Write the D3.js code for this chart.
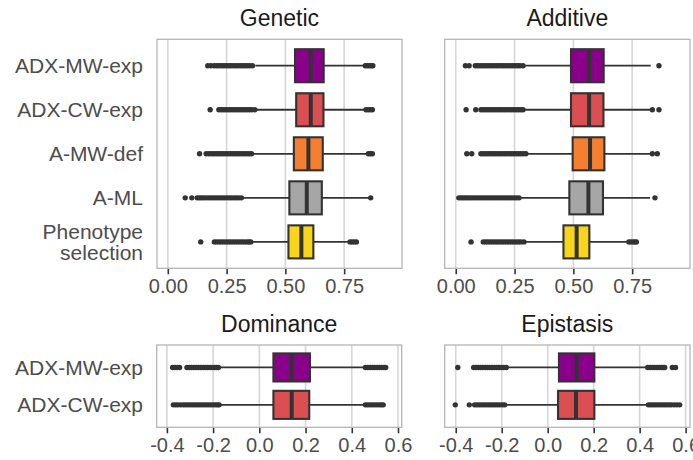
<!DOCTYPE html>
<html>
<head>
<meta charset="utf-8">
<script src="https://cdn.jsdelivr.net/npm/d3@7"></script>
<style>
  html, body { margin: 0; padding: 0; background: #ffffff; }
  svg { display: block; font-family: "Liberation Sans", Arial, Helvetica, sans-serif; }
</style>
</head>
<body>
<svg id="chart" width="693" height="460"></svg>
<script>
// ---------------- DATA ----------------
const categoriesTop = ["ADX-MW-exp", "ADX-CW-exp", "A-MW-def", "A-ML", "Phenotype selection"];
const categoriesBottom = ["ADX-MW-exp", "ADX-CW-exp"];
const methodColors = ["#8B008B", "#DB4E52", "#F47F31", "#A6A6A6", "#F8D51C"];

const topTicks = [0, 0.25, 0.5, 0.75];
const bottomTicks = [-0.4, -0.2, 0, 0.2, 0.4, 0.6];

// Genetic
const geneticQ1 = [0.541, 0.546, 0.536, 0.517, 0.513];
const geneticMedian = [0.608, 0.608, 0.598, 0.591, 0.568];
const geneticQ3 = [0.663, 0.662, 0.659, 0.655, 0.619];
const geneticLower = [0.372, 0.378, 0.365, 0.322, 0.362];
const geneticUpper = [0.832, 0.836, 0.848, 0.855, 0.770];
const geneticOutliers = [
  [0.170, 0.183, 0.197, 0.208, 0.218, 0.228, 0.238, 0.248, 0.258, 0.268, 0.278, 0.288, 0.298, 0.308, 0.318, 0.328, 0.338, 0.348, 0.360, 0.840, 0.849, 0.858, 0.866, 0.872],
  [0.180, 0.217, 0.227, 0.237, 0.247, 0.257, 0.267, 0.277, 0.287, 0.297, 0.307, 0.317, 0.327, 0.337, 0.347, 0.357, 0.370, 0.843, 0.852, 0.861, 0.870],
  [0.135, 0.163, 0.175, 0.186, 0.196, 0.206, 0.216, 0.226, 0.236, 0.246, 0.256, 0.266, 0.276, 0.286, 0.296, 0.306, 0.316, 0.326, 0.336, 0.346, 0.356, 0.853, 0.862, 0.870],
  [0.074, 0.102, 0.125, 0.134, 0.143, 0.152, 0.162, 0.172, 0.182, 0.192, 0.202, 0.212, 0.222, 0.232, 0.242, 0.252, 0.262, 0.272, 0.282, 0.292, 0.302, 0.313, 0.863],
  [0.140, 0.198, 0.208, 0.218, 0.228, 0.238, 0.248, 0.258, 0.268, 0.278, 0.288, 0.298, 0.308, 0.318, 0.328, 0.338, 0.346, 0.353, 0.775, 0.784, 0.793, 0.802]
];

// Additive
const additiveQ1 = [0.490, 0.490, 0.497, 0.483, 0.458];
const additiveMedian = [0.567, 0.567, 0.571, 0.564, 0.514];
const additiveQ3 = [0.629, 0.628, 0.632, 0.626, 0.568];
const additiveLower = [0.295, 0.295, 0.307, 0.278, 0.298];
const additiveUpper = [0.829, 0.826, 0.826, 0.826, 0.727];
const additiveOutliers = [
  [0.041, 0.057, 0.083, 0.093, 0.103, 0.113, 0.123, 0.133, 0.143, 0.153, 0.163, 0.173, 0.183, 0.193, 0.203, 0.213, 0.223, 0.233, 0.243, 0.253, 0.263, 0.273, 0.286, 0.864],
  [0.044, 0.085, 0.107, 0.117, 0.127, 0.137, 0.147, 0.157, 0.167, 0.177, 0.187, 0.197, 0.207, 0.217, 0.227, 0.237, 0.247, 0.257, 0.267, 0.277, 0.286, 0.836, 0.864],
  [0.047, 0.068, 0.107, 0.117, 0.127, 0.137, 0.147, 0.157, 0.167, 0.177, 0.187, 0.197, 0.207, 0.217, 0.227, 0.237, 0.247, 0.257, 0.267, 0.277, 0.287, 0.298, 0.836, 0.857],
  [0.013, 0.022, 0.031, 0.040, 0.049, 0.058, 0.068, 0.078, 0.088, 0.098, 0.108, 0.118, 0.128, 0.138, 0.148, 0.158, 0.168, 0.178, 0.188, 0.198, 0.208, 0.218, 0.228, 0.238, 0.248, 0.258, 0.269, 0.847],
  [0.065, 0.117, 0.127, 0.137, 0.147, 0.157, 0.167, 0.177, 0.187, 0.197, 0.207, 0.217, 0.227, 0.237, 0.247, 0.257, 0.267, 0.277, 0.290, 0.736, 0.745, 0.754, 0.762, 0.768]
];

// Dominance
const dominanceQ1 = [0.061, 0.061];
const dominanceMedian = [0.140, 0.140];
const dominanceQ3 = [0.219, 0.216];
const dominanceLower = [-0.170, -0.167];
const dominanceUpper = [0.450, 0.450];
const dominanceOutliers = [
  [-0.375, -0.365, -0.355, -0.345, -0.313, -0.303, -0.293, -0.283, -0.273, -0.263, -0.253, -0.243, -0.233, -0.223, -0.213, -0.203, -0.193, -0.185, -0.177, 0.459, 0.469, 0.479, 0.489, 0.499, 0.509, 0.519, 0.529, 0.539, 0.547],
  [-0.372, -0.362, -0.352, -0.340, -0.328, -0.318, -0.308, -0.298, -0.288, -0.278, -0.268, -0.258, -0.248, -0.238, -0.228, -0.218, -0.208, -0.198, -0.188, -0.180, -0.174, 0.459, 0.469, 0.479, 0.489, 0.499, 0.509, 0.519, 0.528, 0.536]
];

// Epistasis
const epistasisQ1 = [0.049, 0.045];
const epistasisMedian = [0.126, 0.123];
const epistasisQ3 = [0.203, 0.203];
const epistasisLower = [-0.172, -0.180];
const epistasisUpper = [0.425, 0.428];
const epistasisOutliers = [
  [-0.391, -0.322, -0.312, -0.302, -0.292, -0.282, -0.272, -0.262, -0.252, -0.242, -0.232, -0.222, -0.212, -0.202, -0.192, -0.180, 0.435, 0.445, 0.455, 0.465, 0.475, 0.485, 0.495, 0.503, 0.509, 0.542, 0.556],
  [-0.402, -0.341, -0.318, -0.308, -0.298, -0.288, -0.278, -0.268, -0.258, -0.248, -0.238, -0.228, -0.218, -0.208, -0.197, -0.187, 0.438, 0.448, 0.458, 0.468, 0.478, 0.488, 0.498, 0.508, 0.518, 0.528, 0.538, 0.550, 0.562, 0.574]
];

// ---------------- BUILD ----------------
function rows(cats, q1, med, q3, lo, hi, out) {
  return cats.map((c, i) => ({ cat: c, color: methodColors[i], q1: q1[i], med: med[i], q3: q3[i], lo: lo[i], hi: hi[i], out: out[i] }));
}

const panels = [
  { title: "Genetic", x0: 157, x1: 402, y0: 39.3, y1: 268.3, domain: [-0.046, 0.996], ticks: topTicks, fmt: d => d.toFixed(2),
    cats: categoriesTop, showY: true,
    data: rows(categoriesTop, geneticQ1, geneticMedian, geneticQ3, geneticLower, geneticUpper, geneticOutliers) },
  { title: "Additive", x0: 444.7, x1: 690, y0: 39.3, y1: 268.3, domain: [-0.047, 0.996], ticks: topTicks, fmt: d => d.toFixed(2),
    cats: categoriesTop, showY: false,
    data: rows(categoriesTop, additiveQ1, additiveMedian, additiveQ3, additiveLower, additiveUpper, additiveOutliers) },
  { title: "Dominance", x0: 156.7, x1: 401.7, y0: 345, y1: 427.3, domain: [-0.444, 0.616], ticks: bottomTicks, fmt: d => d.toFixed(1).replace("\u2212", "-"),
    cats: categoriesBottom, showY: true,
    data: rows(categoriesBottom, dominanceQ1, dominanceMedian, dominanceQ3, dominanceLower, dominanceUpper, dominanceOutliers) },
  { title: "Epistasis", x0: 444.7, x1: 690, y0: 345, y1: 427.3, domain: [-0.448, 0.619], ticks: bottomTicks, fmt: d => d.toFixed(1).replace("\u2212", "-"),
    cats: categoriesBottom, showY: false,
    data: rows(categoriesBottom, epistasisQ1, epistasisMedian, epistasisQ3, epistasisLower, epistasisUpper, epistasisOutliers) }
];

const svg = d3.select("#chart");
const dark = "#333333";

panels.forEach(p => {
  const x = d3.scaleLinear().domain(p.domain).range([p.x0, p.x1]);
  const y = d3.scalePoint().domain(p.cats).range([p.y0, p.y1]).padding(0.6);
  const bh = y.step() * 0.75;
  const g = svg.append("g");

  g.append("rect").attr("x", p.x0).attr("y", p.y0).attr("width", p.x1 - p.x0).attr("height", p.y1 - p.y0)
    .attr("fill", "#ffffff");

  g.selectAll("line.grid").data(p.ticks).enter().append("line")
    .attr("x1", d => x(d)).attr("x2", d => x(d))
    .attr("y1", p.y0).attr("y2", p.y1)
    .attr("stroke", "#d6d6d6").attr("stroke-width", 1.6);

  const b = g.selectAll("g.box").data(p.data).enter().append("g");

  b.each(function(d) {
    d3.select(this).selectAll("circle").data(d.out).enter().append("circle")
      .attr("cx", v => x(v)).attr("cy", y(d.cat)).attr("r", 2.7).attr("fill", dark);
  });
  b.append("line").attr("x1", d => x(d.lo)).attr("x2", d => x(d.q1))
    .attr("y1", d => y(d.cat)).attr("y2", d => y(d.cat)).attr("stroke", dark).attr("stroke-width", 1.8);
  b.append("line").attr("x1", d => x(d.q3)).attr("x2", d => x(d.hi))
    .attr("y1", d => y(d.cat)).attr("y2", d => y(d.cat)).attr("stroke", dark).attr("stroke-width", 1.8);
  b.append("rect").attr("x", d => x(d.q1)).attr("width", d => x(d.q3) - x(d.q1))
    .attr("y", d => y(d.cat) - bh / 2).attr("height", bh)
    .attr("fill", d => d.color).attr("stroke", dark).attr("stroke-width", 2.1);
  b.append("line").attr("x1", d => x(d.med)).attr("x2", d => x(d.med))
    .attr("y1", d => y(d.cat) - bh / 2).attr("y2", d => y(d.cat) + bh / 2)
    .attr("stroke", dark).attr("stroke-width", 4);

  g.append("rect").attr("x", p.x0).attr("y", p.y0).attr("width", p.x1 - p.x0).attr("height", p.y1 - p.y0)
    .attr("fill", "none").attr("stroke", "#b5b5b5").attr("stroke-width", 1.3);

  const axis = g.append("g").attr("transform", `translate(0,${p.y1})`)
    .call(d3.axisBottom(x).tickValues(p.ticks).tickFormat(p.fmt).tickSize(6).tickPadding(5));
  axis.select(".domain").remove();
  axis.selectAll(".tick line").attr("stroke", dark).attr("stroke-width", 1.6).attr("y1", 0.7);
  axis.selectAll(".tick text").attr("fill", "#4d4d4d").attr("font-size", "20px")
    .attr("font-family", "'Liberation Sans', Arial, sans-serif");

  if (p.showY) {
    const lab = g.selectAll("text.ylab").data(p.cats).enter().append("text")
      .attr("x", 143).attr("y", d => y(d))
      .attr("text-anchor", "end").attr("fill", "#4d4d4d").attr("font-size", "21px");
    lab.each(function(d) {
      const words = d === "Phenotype selection" ? ["Phenotype", "selection"] : [d];
      const n = words.length;
      const t = d3.select(this);
      words.forEach((w, i) => {
        t.append("tspan").attr("x", 143)
          .attr("y", y(d) + 7.5 + (i - (n - 1) / 2) * 20.6)
          .text(w);
      });
    });
  }

  g.append("text").attr("x", (p.x0 + p.x1) / 2).attr("y", p.y0 - 13)
    .attr("text-anchor", "middle").attr("fill", "#1a1a1a").attr("font-size", "23px").text(p.title);
});
</script>
</body>
</html>
